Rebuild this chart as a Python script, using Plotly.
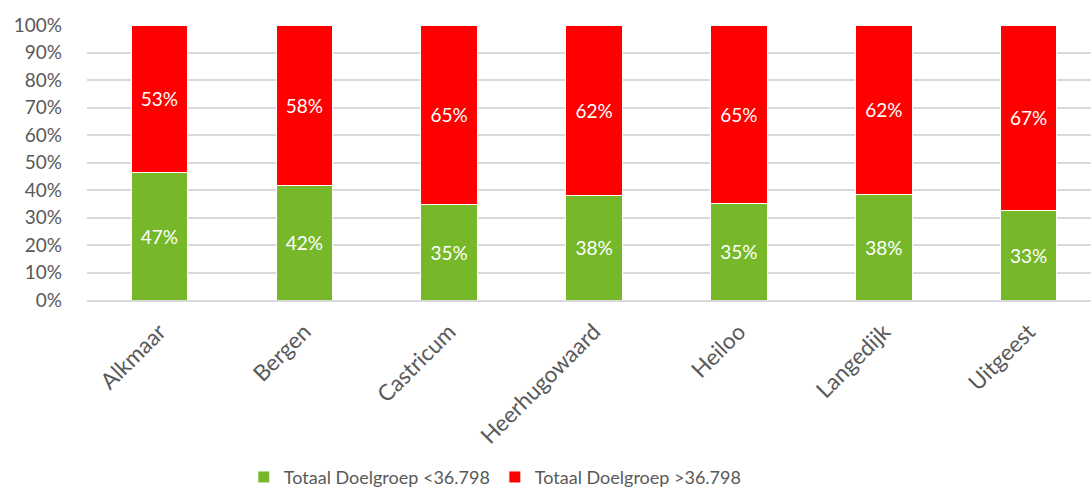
import plotly.graph_objects as go

categories = ["Alkmaar", "Bergen", "Castricum", "Heerhugowaard", "Heiloo", "Langedijk", "Uitgeest"]
green_values = [46.5, 41.5, 34.7, 38.1, 35.1, 38.2, 32.6]
red_values = [53.5, 58.5, 65.3, 61.9, 64.9, 61.8, 67.4]
green_labels = ["47%", "42%", "35%", "38%", "35%", "38%", "33%"]
red_labels = ["53%", "58%", "65%", "62%", "65%", "62%", "67%"]
series_names = ["Totaal Doelgroep <36.798", "Totaal Doelgroep >36.798"]
y_ticks = list(range(0, 101, 10))
y_tick_labels = [f"{v}%" for v in y_ticks]

FONT = "Lato, 'Noto Sans', sans-serif"
GREEN = "#76B82A"
RED = "#FF0000"
TXT = "#595959"

fig = go.Figure()
for vals, labels, name, color in [
    (green_values, green_labels, series_names[0], GREEN),
    (red_values, red_labels, series_names[1], RED),
]:
    fig.add_trace(go.Bar(
        x=categories, y=vals, name=name,
        marker=dict(color=color, line=dict(color="white", width=1)),
        text=labels, textposition="inside", insidetextanchor="middle",
        textfont=dict(color="white", size=19, family=FONT),
        textangle=0, hoverinfo="skip",
    ))

fig.update_layout(
    barmode="stack",
    bargap=0.61,
    width=1091, height=489,
    margin=dict(l=87, r=0, t=25, b=189),
    paper_bgcolor="white", plot_bgcolor="white",
    font=dict(family=FONT, color=TXT, size=19),
    showlegend=True,
    legend=dict(
        orientation="h", xref="container", yref="container",
        x=0.454, xanchor="center", y=0.024, yanchor="middle",
        font=dict(size=18, color=TXT, family=FONT),
        itemwidth=30, traceorder="normal",
    ),
    uniformtext=dict(minsize=18, mode="show"),
)
fig.update_xaxes(
    range=[-0.5, 6.43], tickangle=-45, showgrid=False, automargin=False,
    showline=True, linecolor="#D9D9D9", linewidth=1.5,
    ticks="", tickfont=dict(size=22.5, color=TXT, family=FONT),
    ticklabelstandoff=8,
)
fig.update_yaxes(
    range=[0, 100], tickvals=y_ticks, ticktext=y_tick_labels, automargin=False,
    showgrid=True, gridcolor="#D9D9D9", gridwidth=1.5,
    zeroline=False, showline=False, ticks="",
    tickfont=dict(size=19, color=TXT, family=FONT),
    ticklabelstandoff=24,
)

fig.write_html(
    "out.html",
    config={"displayModeBar": False},
    post_script="document.body.style.margin='0';document.body.style.overflow='hidden';",
)
